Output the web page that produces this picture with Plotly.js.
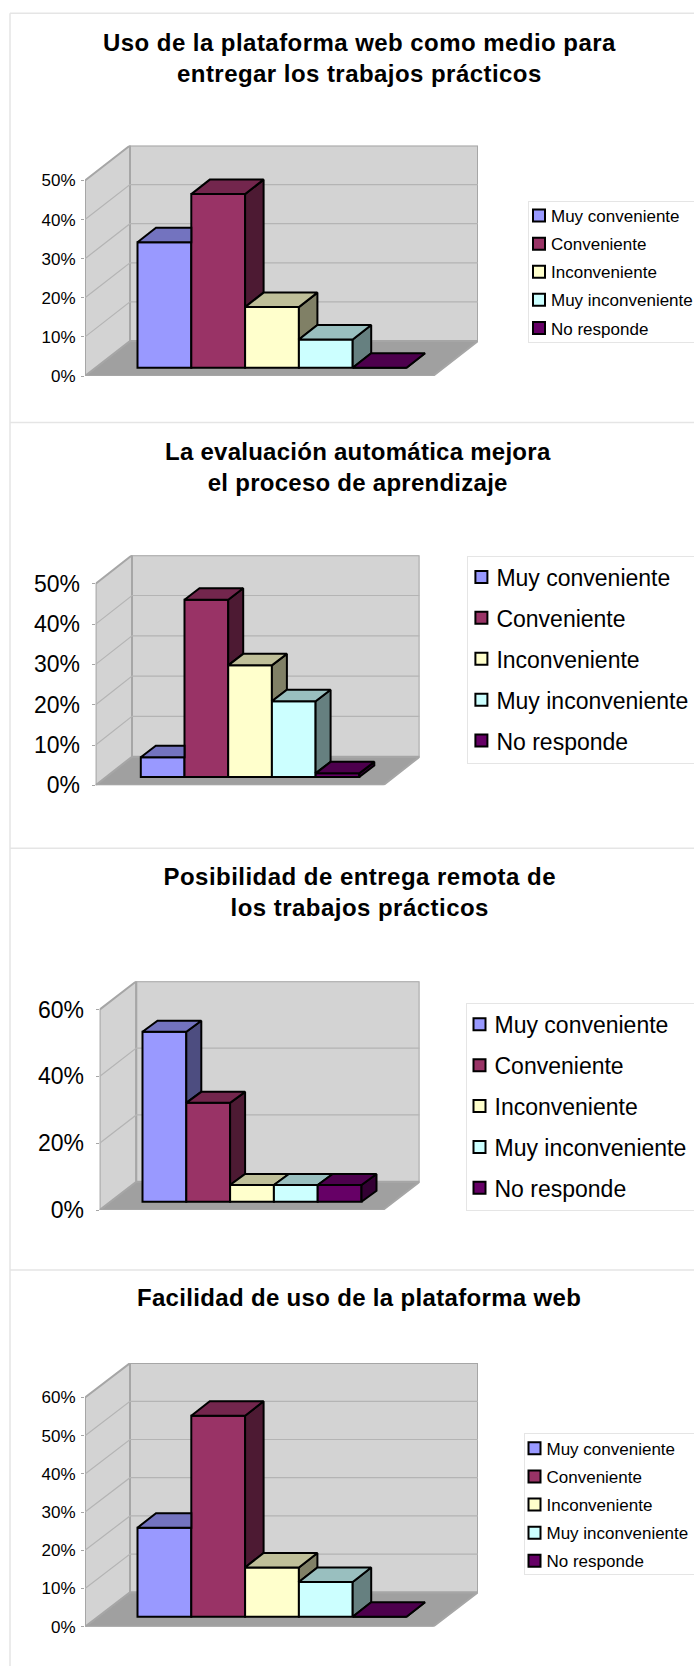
<!DOCTYPE html>
<html><head><meta charset="utf-8">
<script src="https://cdn.plot.ly/plotly-3.0.1.min.js"></script>
<style>html,body{margin:0;padding:0;background:#fff;overflow:hidden;width:694px;height:1666px}#wrap{width:694px;height:1666px;overflow:hidden}</style>
</head><body><div id="wrap"><div id="gd"></div></div>
<script>
const categories = ["Muy conveniente","Conveniente","Inconveniente","Muy inconveniente","No responde"];
const valuesPlataforma = [32.1,44.4,15.5,7.2,0];
const valuesEvaluacion = [4.9,44,27.7,18.8,0.9];
const valuesRemota = [50.9,29.6,5,5,5];
const valuesFacilidad = [23.3,52.6,12.9,9.1,0];
const titles = ["Uso de la plataforma web como medio para<br>entregar los trabajos prácticos",
  "La evaluación automática mejora<br>el proceso de aprendizaje",
  "Posibilidad de entrega remota de<br>los trabajos prácticos",
  "Facilidad de uso de la plataforma web"];
const axisMax = [50,50,60,60];
const tickStep = [10,10,20,10];
const colors = [[153,153,255],[153,51,102],[255,255,204],[204,255,255],[102,0,102]];

const W = 800, H = 1666;
const frames = [
 {v:valuesPlataforma,left:85,back:130,right:478,y0:376,yBack:341,k:3.91,barX:137.5,barW:53.8,barY:367.7,dX:18.5,dY:14.5,font:17,standoff:2,
  legX:528,legY:201,legGap:3,legShift:8,indent:-10,legUp:4,legTrim:8,title:[359.5,58],spacing:.45},
 {v:valuesEvaluacion,left:95.6,back:132,right:419.6,y0:785.3,yBack:756.7,k:4.03,barX:140.8,barW:43.7,barY:777,dX:15,dY:11.5,font:23,standoff:7,
  legX:467.4,legY:556,legGap:8,legShift:5,indent:-7,legUp:1.5,legTrim:1,title:[358,467],spacing:.26},
 {v:valuesRemota,left:99.6,back:136.3,right:419.6,y0:1210,yBack:1181.7,k:3.34,barX:142.5,barW:43.8,barY:1201.7,dX:15,dY:11,font:23,standoff:7,
  legX:465.5,legY:1003.3,legGap:8,legShift:5,indent:-7,legUp:1.5,legTrim:1,title:[359.5,892],spacing:.47},
 {v:valuesFacilidad,left:85,back:130,right:478,y0:1626.7,yBack:1592.3,k:3.82,barX:137.5,barW:53.8,barY:1616.7,dX:18.5,dY:14.5,font:17,standoff:2,
  legX:523.5,legY:1433.3,legGap:3,legShift:8,indent:-10,legUp:3.5,legTrim:8,title:[359,1297],spacing:.33}
];
const FONT = "Liberation Sans";
const shade = (c,f)=>`rgb(${c.map(a=>Math.round(a*f)).join(",")})`;
const traces = [], shapes = [], annotations = [];
const layout = {width:W,height:H,margin:{l:0,r:0,t:0,b:0,pad:0},paper_bgcolor:"#fff",plot_bgcolor:"rgba(0,0,0,0)",
  barmode:"overlay",font:{family:FONT,color:"#000"},hovermode:false,showlegend:true,shapes,annotations};

// panel rules
const RULE="#e5e5e5";
[13.3,422.5,848.3,1270].forEach(y=>shapes.push({type:"line",xref:"paper",yref:"paper",x0:10/W,x1:1,y0:1-y/H,y1:1-y/H,line:{color:RULE,width:1.5},layer:"below"}));
shapes.push({type:"line",xref:"paper",yref:"paper",x0:10/W,x1:10/W,y0:1-13.3/H,y1:0,line:{color:RULE,width:1.5},layer:"below"});

frames.forEach((f,n)=>{
  const sx = n? "x"+(n+1):"x", sy = n? "y"+(n+1):"y";
  const ax = n? "xaxis"+(n+1):"xaxis", ay = n? "yaxis"+(n+1):"yaxis";
  const lg = n? "legend"+(n+1):"legend";
  f.id = lg;
  const max = axisMax[n];
  const depth = (f.y0-f.yBack)/f.k;               // floor depth in axis units
  const top = f.yBack - f.k*max;
  const X = px => (px-f.barX)/f.barW - 0.5;        // pixels to category units (frame only)
  layout[ax] = {domain:[f.left/W,f.right/W],range:[X(f.left),X(f.right)],visible:false,fixedrange:true,anchor:sy};
  const ticks=[]; for(let t=0;t<=max;t+=tickStep[n]) ticks.push(t);
  layout[ay] = {domain:[1-f.y0/H,1-top/H],range:[0,max+depth],anchor:sx,fixedrange:true,showgrid:false,zeroline:false,showline:false,
    tickmode:"array",tickvals:ticks,ticktext:ticks.map(t=>t+"%"),ticks:"outside",ticklen:3,tickcolor:"#a6a6a6",tickwidth:1,
    ticklabelstandoff:f.standoff,tickfont:{family:FONT,size:f.font,color:"#000"}};
  // walls
  const xl=X(f.left), xb=X(f.back), xr=X(f.right), xf=X(f.right-(f.back-f.left));
  const poly = pts => "M"+pts.map(p=>p[0]+","+p[1]).join("L")+"Z";
  const wall = (pts,fill)=>shapes.push({type:"path",xref:sx,yref:sy,path:poly(pts),fillcolor:fill,line:{color:"#a6a6a6",width:2},layer:"below"});
  wall([[xl,0],[xf,0],[xr,depth],[xb,depth]],"#a0a0a0");
  wall([[xl,0],[xb,depth],[xb,max+depth],[xl,max]],"#d3d3d3");
  wall([[xb,depth],[xr,depth],[xr,max+depth],[xb,max+depth]],"#d3d3d3");
  ticks.filter(t=>t>0&&t<max).forEach(t=>{
    shapes.push({type:"path",xref:sx,yref:sy,path:`M${xl},${t}L${xb},${t+depth}L${xr},${t+depth}`,line:{color:"#b4b4b4",width:1.2},layer:"below"});
  });
  // bars
  const base=(f.y0-f.barY)/f.k, dx=f.dX/f.barW, dy=f.dY/f.k;
  f.v.forEach((v,i)=>{
    traces.push({type:"bar",name:categories[i],x:[i],y:[v],base:[base],width:1,xaxis:sx,yaxis:sy,legend:lg,legendgroup:lg+"_"+i,
      marker:{color:shade(colors[i],1),line:{color:"#000",width:2}},hoverinfo:"skip",cliponaxis:false});
  });
  // depth faces, hidden parts left out so the neighbouring front face stays in front
  f.v.forEach((v,i)=>{
    const L=i-.5,R=i+.5,t=base+v,c=colors[i];
    const next = i+1<f.v.length? f.v[i+1]:0;
    const face=(pts,col)=>traces.push({type:"scatter",mode:"lines",x:pts.map(p=>p[0]).concat(pts[0][0]),y:pts.map(p=>p[1]).concat(pts[0][1]),
      fill:"toself",fillcolor:col,line:{color:"#000",width:2},xaxis:sx,yaxis:sy,showlegend:false,hoverinfo:"skip",cliponaxis:false});
    if(next<v){ const b=base+next; face([[R,b],[R,t],[R+dx,t+dy],[R+dx,b+dy]],shade(c,.5)); }
    else if(i===f.v.length-1){ face([[R,base],[R,t],[R+dx,t+dy],[R+dx,base+dy]],shade(c,.5)); }
    if(next>v) face([[L,t],[R,t],[R,t+dy],[L+dx,t+dy]],shade(c,.75));
    else face([[L,t],[R,t],[R+dx,t+dy],[L+dx,t+dy]],shade(c,.75));
  });
  layout[lg]={xref:"paper",yref:"paper",x:f.legX/W,y:1-f.legY/H,xanchor:"left",yanchor:"top",bgcolor:"#fff",bordercolor:"#e5e5e5",borderwidth:1,
    font:{family:FONT,size:f.font,color:"#000"},tracegroupgap:f.legGap,itemclick:false,itemdoubleclick:false,indentation:f.indent,
    entrywidth:220,entrywidthmode:"pixels",traceorder:"grouped"};
  annotations.push({xref:"paper",yref:"paper",x:f.title[0]/W,y:1-f.title[1]/H,xanchor:"center",yanchor:"middle",align:"center",showarrow:false,
    text:titles[n],font:{family:FONT,size:24,weight:700,color:"#000"}});
});

function finish(gd){
  frames.forEach(f=>{
    const g=gd.querySelector("g."+f.id);
    if(!g) return;
    g.querySelectorAll("text."+f.id+"text").forEach(t=>{
      if(!t.dataset.x0) t.dataset.x0=t.getAttribute("x");
      t.setAttribute("x",parseFloat(t.dataset.x0)-f.legShift);
    });
    const sb=g.querySelector(".scrollbox"); if(sb) sb.setAttribute("transform",`translate(0,${-f.legUp})`);
    const bg=g.querySelector("rect.bg");
    if(bg){ if(!bg.dataset.h0) bg.dataset.h0=bg.getAttribute("height"); bg.setAttribute("height",parseFloat(bg.dataset.h0)-f.legTrim); }
  });
  gd.querySelectorAll(".annotation-text").forEach((t,n)=>{t.style.letterSpacing=frames[n].spacing+"px";});
}
Plotly.newPlot("gd",traces,layout,{displayModeBar:false,responsive:false}).then(gd=>{ finish(gd); setTimeout(()=>finish(gd),50); });
</script></body></html>
